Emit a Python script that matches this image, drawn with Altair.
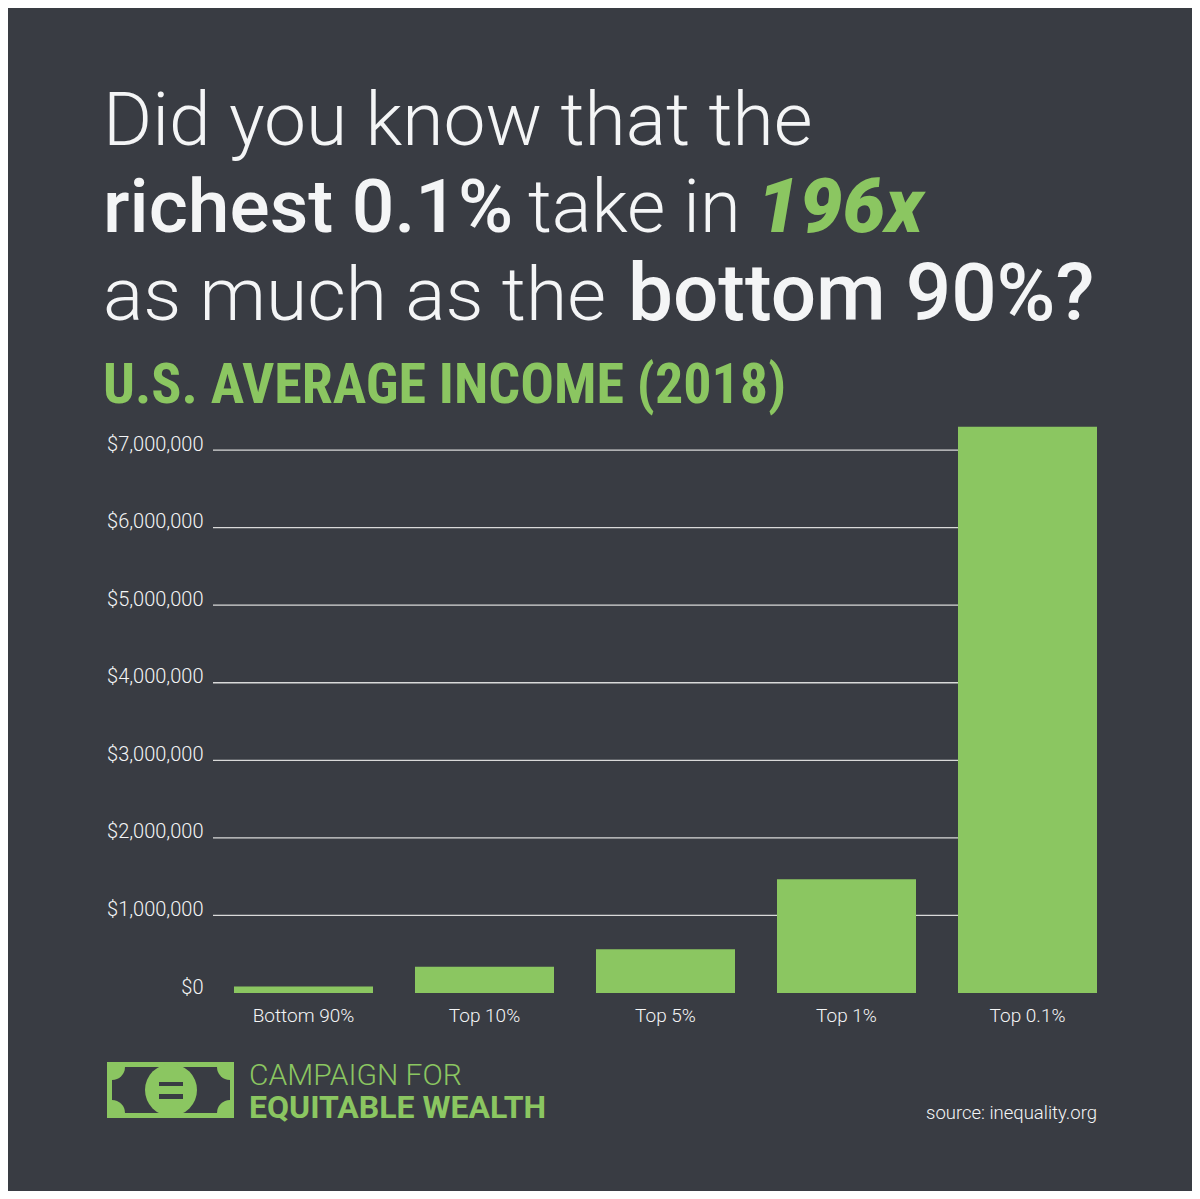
import altair as alt
import pandas as pd
import math

# ---- data ----
groups = ["Bottom 90%", "Top 10%", "Top 5%", "Top 1%", "Top 0.1%"]
income = [85000, 339000, 563000, 1466000, 7300000]
tick_values = [0, 1000000, 2000000, 3000000, 4000000, 5000000, 6000000, 7000000]
grid_values = [1000000, 2000000, 3000000, 4000000, 5000000, 6000000, 7000000]

BG = "#393c43"
GREEN = "#8bc661"
WHITE = "#f4f5f6"
FONT = "Roboto"
NARROW = "Roboto Condensed, Liberation Sans Narrow, DejaVu Sans Condensed, Arial Narrow"

df = pd.DataFrame({"group": groups, "income": income})
grid_df = pd.DataFrame({"v": grid_values})
one = pd.DataFrame({"a": [0]})

W, H = 905, 574

x_enc = alt.X("group:N", sort=groups,
              scale=alt.Scale(paddingInner=0.232, paddingOuter=0.116),
              axis=alt.Axis(title=None, labelAngle=0, ticks=False, domain=False,
                            labelColor=WHITE, labelFont=FONT, labelFontSize=19,
                            labelFontWeight=300, labelPadding=28,
                            labelBaseline="alphabetic"))
y_scale = alt.Scale(domain=[0, 7400000], nice=False)

grid = alt.Chart(grid_df).mark_rule(color="#d9d9d9", strokeWidth=1.3).encode(
    y=alt.Y("v:Q", scale=y_scale),
    x=alt.value(0), x2=alt.value(884))

bars = alt.Chart(df).mark_bar(color=GREEN).encode(
    x=x_enc,
    y=alt.Y("income:Q", scale=y_scale,
            axis=alt.Axis(title=None, values=tick_values, format="$,d", grid=False,
                          ticks=False, domain=False, labelColor=WHITE, labelFont=FONT,
                          labelFontSize=20, labelFontWeight=300, labelPadding=10,
                          labelBaseline="alphabetic")))


def txt(s, px, py, size, weight=300, color=WHITE, align="left", style="normal", font=FONT):
    return alt.Chart(one).mark_text(text=s, align=align, baseline="alphabetic",
                                    fontSize=size, fontWeight=weight, font=font,
                                    fontStyle=style, color=color).encode(
        x=alt.value(px - 213), y=alt.value(py - 419))


def rect(x1, y1, x2, y2, color):
    return alt.Chart(one).mark_rect(color=color).encode(
        x=alt.value(x1 - 213), x2=alt.value(x2 - 213),
        y=alt.value(y1 - 419), y2=alt.value(y2 - 419))


def arc(cx, cy, r, t1, t2, color):
    return alt.Chart(one).mark_arc(radius=r, theta=t1, theta2=t2,
                                   x=cx - 213, y=cy - 419).encode(color=alt.value(color))


PI = math.pi

texts = [
    txt("Did you know that the", 103, 145, 75, 300),
    txt("richest 0.1%", 103, 232, 75, 500),
    txt("take in", 528, 232, 74, 300),
    txt("196x", 757, 232, 76, 900, GREEN, style="italic"),
    txt("as much as the", 103, 320, 75, 300),
    txt("bottom 90%?", 628, 320, 80, 500),
    txt("U.S. AVERAGE INCOME (2018)", 103, 403, 56, 700, GREEN, font=NARROW),
    txt("CAMPAIGN FOR", 249, 1085, 30, 300, GREEN),
    txt("EQUITABLE WEALTH", 249, 1118, 32, 700, GREEN),
    txt("source: inequality.org", 1097, 1119, 18.5, 300, WHITE, align="right"),
]

logo = [
    rect(107, 1062, 234, 1118, GREEN),
    rect(112, 1067, 230, 1113, BG),
    arc(112, 1067, 13, PI / 2, PI, GREEN),
    arc(230, 1067, 13, PI, 3 * PI / 2, GREEN),
    arc(230, 1113, 13, 3 * PI / 2, 2 * PI, GREEN),
    arc(112, 1113, 13, 0, PI / 2, GREEN),
    arc(171, 1090, 26, 0, 2 * PI, GREEN),
    rect(159, 1082, 183, 1086, BG),
    rect(159, 1094, 183, 1099, BG),
]

chart = alt.layer(grid, bars, *texts, *logo).properties(
    width=W, height=H, background=BG,
    autosize=alt.AutoSizeParams(type="none"),
    padding={"left": 205, "top": 411, "right": 74, "bottom": 198},
).configure_view(stroke=None)

chart.save("out.html", embed_options={"renderer": "svg", "actions": False})
